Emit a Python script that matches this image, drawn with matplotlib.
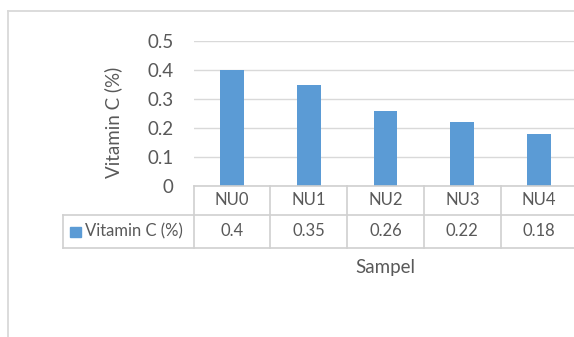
import matplotlib
matplotlib.use("Agg")
import matplotlib.pyplot as plt
from matplotlib.lines import Line2D
from matplotlib.patches import Rectangle
import matplotlib.transforms as mtrans

# Data
samples = ["NU0", "NU1", "NU2", "NU3", "NU4"]
vitamin_c = [0.4, 0.35, 0.26, 0.22, 0.18]
value_labels = ["0.4", "0.35", "0.26", "0.22", "0.18"]
series_name = "Vitamin C (%)"
yticks = [0, 0.1, 0.2, 0.3, 0.4, 0.5]

plt.rcParams["font.family"] = ["Lato", "DejaVu Sans"]
text_col = "#595959"
grid_col = "#D9D9D9"
bar_col = "#5B9BD5"

W, H = 574, 337
fig = plt.figure(figsize=(W / 100, H / 100), dpi=100)

def fx(px):
    return px / W

def fy(py):
    return 1 - py / H

# outer chart border (runs off right and bottom)
fig.add_artist(Line2D([fx(8), fx(8)], [fy(11), fy(400)], color=grid_col, lw=1.3))
fig.add_artist(Line2D([fx(8), fx(700)], [fy(11), fy(11)], color=grid_col, lw=1.3))

# plot area: category width ~77 px, left edge at x=193.5
left_px, cat_w = 193.5, 76.8
ax = fig.add_axes([fx(left_px), fy(186), fx(cat_w * 5), fy(41) - fy(186)])
x = range(len(samples))
ax.bar(x, vitamin_c, width=0.31, color=bar_col, zorder=3)
ax.set_xlim(-0.5, 4.5)
ax.set_ylim(0, 0.5)
ax.set_yticks(yticks)
ax.set_yticklabels(["0" if v == 0 else f"{v:g}" for v in yticks])
ax.yaxis.grid(True, color=grid_col, lw=1.0)
ax.set_axisbelow(True)
for s in ax.spines.values():
    s.set_visible(False)
ax.tick_params(axis="y", length=0, pad=14.5, labelsize=13.5, labelcolor=text_col)
ax.set_xticks([])

# y axis title
fig.text(fx(113), fy(122), series_name, rotation=90, ha="center", va="center",
         fontsize=13.5, color=text_col)

# data table
trans = mtrans.blended_transform_factory(ax.transData, fig.transFigure)
row_top, row_mid, row_bot = 186, 215, 248
lc = "#D0D0D0"
for i in range(len(samples) + 1):
    xe = i - 0.5
    fig.add_artist(Line2D([xe, xe], [fy(row_top), fy(row_bot)], color=lc, lw=1.2,
                          transform=trans, clip_on=False))
fig.add_artist(Line2D([-0.5, 4.6], [fy(row_top), fy(row_top)], color=lc, lw=1.2,
                      transform=trans, clip_on=False))
fig.add_artist(Line2D([fx(63), fx(700)], [fy(row_mid), fy(row_mid)], color=lc, lw=1.2))
fig.add_artist(Line2D([fx(63), fx(700)], [fy(row_bot), fy(row_bot)], color=lc, lw=1.2))
fig.add_artist(Line2D([fx(63), fx(63)], [fy(row_mid), fy(row_bot)], color=lc, lw=1.2))

for i, (name, lab) in enumerate(zip(samples, value_labels)):
    fig.text(i, fy((row_top + row_mid) / 2), name, transform=trans, ha="center",
             va="center", fontsize=12, color=text_col)
    fig.text(i, fy((row_mid + row_bot) / 2), lab, transform=trans, ha="center",
             va="center", fontsize=12, color=text_col)

# legend key in the table
fig.add_artist(Rectangle((fx(70), fy(237)), fx(11), fy(227) - fy(237), color=bar_col))
fig.text(fx(85), fy((row_mid + row_bot) / 2), series_name, ha="left", va="center",
         fontsize=12, color=text_col)

# x axis title
fig.text(fx(385), fy(268), "Sampel", ha="center", va="center", fontsize=13.5,
         color=text_col)

fig.savefig("out.png", dpi=100, facecolor="white")
